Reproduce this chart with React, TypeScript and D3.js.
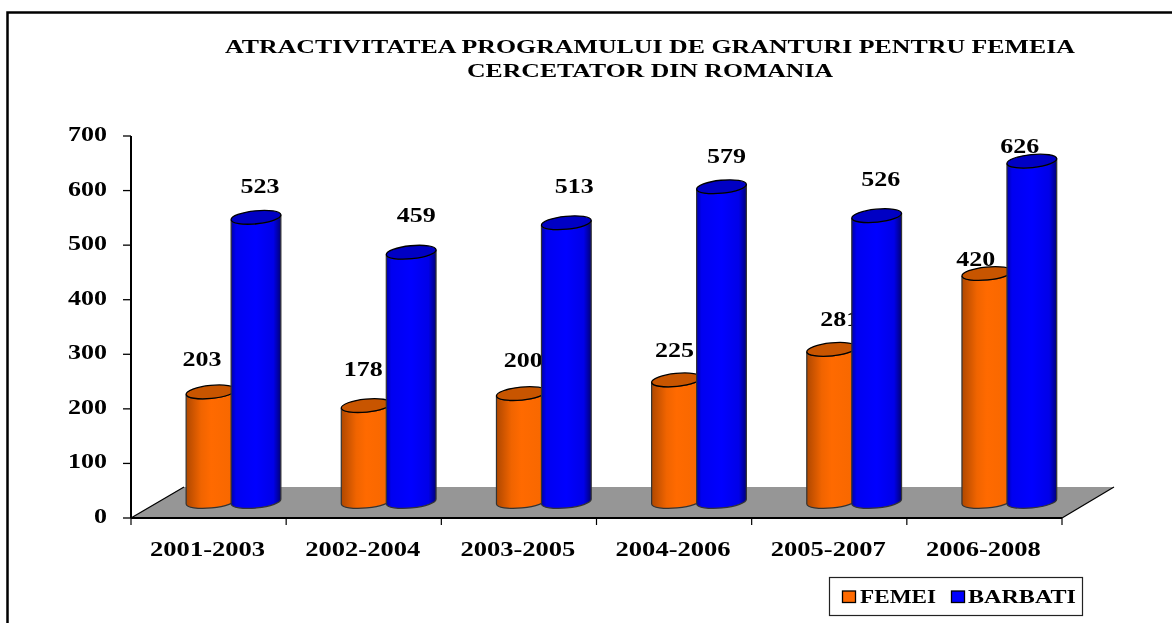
import React from "react";
import * as d3 from "d3";

const title1 = "ATRACTIVITATEA PROGRAMULUI DE GRANTURI PENTRU FEMEIA";
const title2 = "CERCETATOR DIN ROMANIA";
const categories = ["2001-2003", "2002-2004", "2003-2005", "2004-2006", "2005-2007", "2006-2008"];
const femei = [203, 178, 200, 225, 281, 420];
const barbati = [523, 459, 513, 579, 526, 626];
const yTicks = [0, 100, 200, 300, 400, 500, 600, 700];
const seriesNames = ["FEMEI", "BARBATI"];

// Hand-placed label nudges, as in the source chart (px from the default spot)
const femeiNudge: [number, number][] = [[-9, 0], [-3, -3], [2, 0], [-2, 3], [8, 3], [-11, 19]];
const barbatiNudge: [number, number][] = [[4, 3], [5, -3], [8, -2.5], [5, 3.5], [4, -2.5], [-12, 19]];

const FONT = "'Liberation Serif','Times New Roman',serif";
const x = d3.scaleBand<string>().domain(categories).range([131, 1062]);
const y = d3.scaleLinear().domain([0, 700]).range([518, 136]);
const floorDepth = 15.3;
const baseDepth = 16.5;
const rx = 25, ry = 6.5, tilt = -5.7;
const orangeOff = 80, blueOff = 125;
const rad = (tilt * Math.PI) / 180;

function Cyl({ cx, value, kind }: { cx: number; value: number; kind: "o" | "b" }) {
  const top = y(value) - floorDepth;
  const base = y(0) - baseDepth;
  const dx = rx * Math.cos(rad), dy = rx * Math.sin(rad);
  const body = `M${cx - dx},${top - dy} L${cx - dx},${base - dy} A${rx},${ry} ${tilt} 0 0 ${cx + dx},${base + dy} L${cx + dx},${top + dy} A${rx},${ry} ${tilt} 0 1 ${cx - dx},${top - dy} Z`;
  return (
    <g>
      <path d={body} fill={`url(#grad-${kind})`} stroke="#333" strokeWidth={1.2} />
      <ellipse cx={cx} cy={top} rx={rx} ry={ry} transform={`rotate(${tilt} ${cx} ${top})`}
        fill={kind === "o" ? "#c85500" : "#0000c4"} stroke="#000" strokeWidth={1.3} />
    </g>
  );
}

function T({ x, y, w, size, anchor = "start", children, fill = "#000" }: any) {
  return (
    <text x={x} y={y} fontFamily={FONT} fontWeight="bold" fontSize={size} fill={fill}
      textAnchor={anchor} textLength={w} lengthAdjust="spacingAndGlyphs" filter="url(#soft)">{children}</text>
  );
}

export default function App() {
  const floor = d3.line()([
    [x.range()[0], y(0)], [184, y(0) - 31], [1114, y(0) - 31], [x.range()[1], y(0)],
  ]) + "Z";
  return (
    <svg width={1172} height={623} style={{ position: "fixed", left: 0, top: 0, background: "#fff" }}>
      <defs>
        <linearGradient id="grad-o" x1="0" x2="1" y1="0" y2="0">
          <stop offset="0" stopColor="#b04800" />
          <stop offset="0.3" stopColor="#f06400" />
          <stop offset="0.5" stopColor="#ff6a00" />
          <stop offset="0.9" stopColor="#f86800" />
          <stop offset="1" stopColor="#b04800" />
        </linearGradient>
        <linearGradient id="grad-b" x1="0" x2="1" y1="0" y2="0">
          <stop offset="0" stopColor="#0000a8" />
          <stop offset="0.1" stopColor="#0000f0" />
          <stop offset="0.5" stopColor="#0000ff" />
          <stop offset="0.85" stopColor="#0000e8" />
          <stop offset="1" stopColor="#000078" />
        </linearGradient>
        <filter id="soft" x="-5%" y="-20%" width="110%" height="140%"><feGaussianBlur stdDeviation="0.4" /></filter>
      </defs>

      {/* outer frame */}
      <path d="M7.5,623 L7.5,12.5 L1172,12.5" fill="none" stroke="#000" strokeWidth={2.5} />

      <T x={225} y={53} w={850} size={19.5}>{title1}</T>
      <T x={467} y={77} w={366} size={19.5}>{title2}</T>

      {/* floor */}
      <path d={floor} fill="#969696" stroke="none" />
      <path d={`M${x.range()[0]},${y(0)} L184,${y(0) - 31} M1114,${y(0) - 31} L${x.range()[1]},${y(0)}`} stroke="#000" strokeWidth={1.2} fill="none" />
      <path d={`M${x.range()[0]},${y(0)} H${x.range()[1]}`} stroke="#000" strokeWidth={2} />

      {/* axes */}
      <path d={`M131,${y(700)} V${y(0)}`} stroke="#000" strokeWidth={2} />
      {yTicks.map((t) => (
        <g key={t}>
          <path d={`M123,${y(t)} H131`} stroke="#000" strokeWidth={1.3} />
          <T x={107} y={y(t) + 5} size={20} w={t === 0 ? 13 : 39} anchor="end">{String(t)}</T>
        </g>
      ))}
      {[...categories.map((c) => x(c)!), x.range()[1]].map((v, i) => (
        <path key={i} d={`M${v},${y(0)} v7`} stroke="#000" strokeWidth={1.2} />
      ))}
      {categories.map((c) => (
        <T key={c} x={x(c)! + x.bandwidth() / 2 - 1} y={556} w={115} size={20} anchor="middle">{c}</T>
      ))}

      {/* orange first, with labels, so that the blue bars cover them */}
      {categories.map((c, i) => (
        <Cyl key={c} cx={x(c)! + orangeOff} value={femei[i]} kind="o" />
      ))}
      {categories.map((c, i) => (
        <T key={c} x={x(c)! + orangeOff + femeiNudge[i][0]} y={y(femei[i]) - 41.5 + femeiNudge[i][1]} w={39} size={20} anchor="middle">{femei[i]}</T>
      ))}
      {categories.map((c, i) => (
        <Cyl key={c} cx={x(c)! + blueOff} value={barbati[i]} kind="b" />
      ))}
      {categories.map((c, i) => (
        <T key={c} x={x(c)! + blueOff + barbatiNudge[i][0]} y={y(barbati[i]) - 42.5 + barbatiNudge[i][1]} w={39} size={20} anchor="middle">{barbati[i]}</T>
      ))}

      {/* legend */}
      <rect x={829.5} y={577.5} width={253} height={38} fill="#fff" stroke="#222" strokeWidth={1.2} />
      <rect x={842.5} y={591} width={13} height={11.5} fill="#ff6a00" stroke="#000" strokeWidth={1.3} />
      <T x={860} y={603} w={76} size={19}>{seriesNames[0]}</T>
      <rect x={951.5} y={591} width={13} height={11.5} fill="#0000ff" stroke="#000" strokeWidth={1.3} />
      <T x={968} y={603} w={108} size={19}>{seriesNames[1]}</T>
    </svg>
  );
}
